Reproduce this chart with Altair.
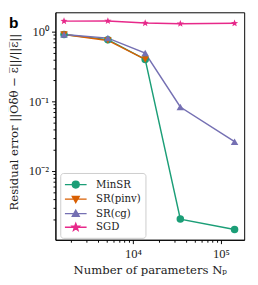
import math
import altair as alt
import pandas as pd

# ---- data ----
series = ["MinSR", "SR(pinv)", "SR(cg)", "SGD"]
colors = ["#1b9e77", "#d95f02", "#7570b3", "#e7298a"]
n_params = [1650, 5200, 13800, 34600, 143000]
minsr = [0.91, 0.77, 0.40, 0.00204, 0.00145]
sr_pinv = [0.91, 0.75, 0.40]
sr_cg = [0.91, 0.81, 0.495, 0.083, 0.0264]
sgd = [1.42, 1.43, 1.33, 1.30, 1.32]

y_tick_values = [k * 10 ** e for e in (-3, -2, -1) for k in range(1, 10)] + [1]
x_tick_values = [k * 10 ** e for e in (3, 4) for k in range(1, 10)] + [100000]
x_tick_values = [v for v in x_tick_values if v >= 1318]

rows = []
for name, vals in zip(series, [minsr, sr_pinv, sr_cg, sgd]):
    for i, v in enumerate(vals):
        rows.append({"series": name, "Np": n_params[i], "err": v, "order": i})
df = pd.DataFrame(rows)


# ---- marker shapes ----
def star(scale=1.0, inner=0.42):
    pts = []
    for i in range(10):
        a = -math.pi / 2 + i * math.pi / 5
        r = scale if i % 2 == 0 else scale * inner
        pts.append((r * math.cos(a), r * math.sin(a)))
    return "M" + "L".join(f"{x:.3f},{y:.3f}" for x, y in pts) + "Z"


def circ(k):
    return f"M{k},0A{k},{k} 0 1,1 -{k},0A{k},{k} 0 1,1 {k},0Z"


def tri_up(k):
    return f"M0,-{k}L{k},{k*0.8}L-{k},{k*0.8}Z"


def tri_down(k):
    return f"M0,{k}L{k},-{k*0.8}L-{k},-{k*0.8}Z"


plot_shapes = ["circle", "triangle-down", "triangle-up", star(1.0)]
k = 0.5
line = "M-1.6,0L1.6,0"
legend_shapes = [line + circ(k), line + tri_down(k), line + tri_up(k), line + star(k * 1.1)]
legend_symbol_size = 196

serif = "DejaVu Serif"
label_serif = "Liberation Serif"

x_scale = alt.Scale(type="log", domain=[1318, 184000], nice=False)
y_scale = alt.Scale(type="log", domain=[0.00103, 1.9], nice=False)

y_major = "datum.value == 1 || datum.value == 0.1 || datum.value == 0.01"
x_major = "datum.value == 10000 || datum.value == 100000"

x_enc = alt.X(
    "Np:Q",
    scale=x_scale,
    axis=alt.Axis(
        values=x_tick_values,
        labelExpr="datum.value == 10000 ? '10⁴' : datum.value == 100000 ? '10⁵' : ''",
        title="Number of parameters Nₚ",
        tickSize={"condition": {"test": x_major, "value": 4}, "value": 2.5},
        labelOverlap=False,
        labelPadding=4,
        titlePadding=5,
        grid=False,
    ),
)
y_enc = alt.Y(
    "err:Q",
    scale=y_scale,
    axis=alt.Axis(
        values=y_tick_values,
        labelExpr="datum.value == 1 ? '10⁰' : datum.value == 0.1 ? '10⁻¹' : datum.value == 0.01 ? '10⁻²' : ''",
        title="Residual error ||O\u0305δθ − ε\u0305||/||ε\u0305||",
        tickSize={"condition": {"test": y_major, "value": 4}, "value": 2.5},
        labelOverlap=False,
        labelPadding=3,
        titleX=-43,
        titleY=113,
        titleBaseline="middle",
        grid=False,
    ),
)

legend_def = alt.Legend(
    title=None,
    orient="none",
    legendX=5,
    legendY=166,
    symbolSize=legend_symbol_size,
    symbolOpacity=1,
    symbolStrokeWidth=1.5,
    symbolOffset=4,
    labelFont=serif,
    labelFontSize=10.5,
    labelColor="#222",
    labelOffset=13,
    rowPadding=0,
    padding=4,
    strokeColor="#cccccc",
    fillColor="white",
    cornerRadius=3,
)

base = alt.Chart(df)

lines = base.mark_line(strokeWidth=1.5).encode(
    x=x_enc,
    y=y_enc,
    color=alt.Color("series:N", scale=alt.Scale(domain=series, range=colors), legend=None),
    detail="series:N",
    order="order:Q",
)
points = base.mark_point(filled=True, size=60, opacity=1).encode(
    x=x_enc,
    y=y_enc,
    color=alt.Color("series:N", scale=alt.Scale(domain=series, range=colors), legend=None),
    shape=alt.Shape("series:N", scale=alt.Scale(domain=series, range=plot_shapes), legend=None),
)
legend_layer = base.mark_point(opacity=0, size=legend_symbol_size).encode(
    x=x_enc,
    y=y_enc,
    fill=alt.Fill("series:N", scale=alt.Scale(domain=series, range=colors), legend=legend_def),
    stroke=alt.Stroke("series:N", scale=alt.Scale(domain=series, range=colors), legend=legend_def),
    shape=alt.Shape("series:N", scale=alt.Scale(domain=series, range=legend_shapes), legend=legend_def),
)

label_df = pd.DataFrame({"t": ["b"]})
panel = alt.Chart(label_df).mark_text(
    font="Liberation Sans", fontWeight="bold", fontSize=16, align="center", baseline="middle"
).encode(text="t:N", x=alt.value(-43), y=alt.value(11))

chart = (
    alt.layer(lines, points, legend_layer, panel)
    .resolve_scale(shape="independent", color="independent", fill="independent", stroke="independent")
    .properties(
        width=195,
        height=235,
        padding={"left": 49, "top": 0, "right": 6, "bottom": 34},
        autosize=alt.AutoSizeParams(type="none"),
    )
    .configure_view(stroke="black", strokeWidth=1)
    .configure_axis(
        domainColor="black",
        tickColor="black",
        labelFont=label_serif,
        labelFontSize=13,
        labelColor="#222",
        titleFont=serif,
        titleFontSize=12,
        titleFontWeight="normal",
        titleColor="#222",
        labelFlush=False,
    )
)

chart.save("out.html", embed_options={"renderer": "svg", "actions": False})
